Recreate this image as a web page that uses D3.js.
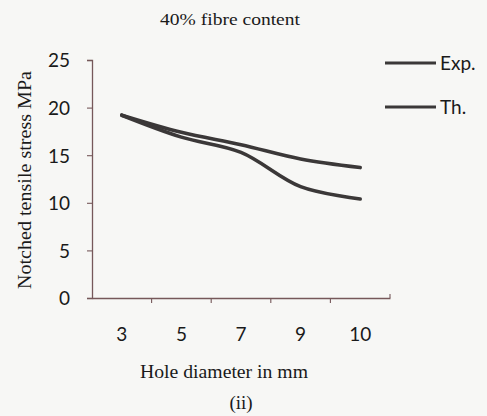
<!DOCTYPE html>
<html>
<head>
<meta charset="utf-8">
<script src="https://cdn.jsdelivr.net/npm/d3@7"></script>
<style>
  body { margin: 0; background: #f7f7f5; }
  svg { display: block; }
</style>
</head>
<body>
<svg id="chart" width="487" height="416"></svg>
<script>
// chart data
const holeDiameters = ['3', '5', '7', '9', '10'];
const expValues = [19.2, 17.4, 16.1, 14.6, 13.7];
const thValues = [19.2, 16.9, 15.3, 11.7, 10.4];
const yTicks = [0, 5, 10, 15, 20, 25];
const seriesNames = ['Exp.', 'Th.'];

const svg = d3.select('#chart');
const margin = { top: 60, right: 97, bottom: 118, left: 92 };
const width = +svg.attr('width') - margin.left - margin.right;
const height = +svg.attr('height') - margin.top - margin.bottom;

const axisColor = '#76585a';
const lineColor = '#3b3838';
const serif = '"Liberation Serif", "Times New Roman", serif';
const sans = 'Lato, "Open Sans", sans-serif';

const x = d3.scaleBand().domain(holeDiameters).range([0, width]);
const y = d3.scaleLinear().domain([0, 25]).range([height, 0]);

const g = svg.append('g')
  .attr('transform', `translate(${margin.left},${margin.top})`);

// y axis
const yAxis = g.append('g')
  .call(d3.axisLeft(y).tickValues(yTicks).tickSize(5).tickPadding(17));
yAxis.select('.domain').attr('stroke', axisColor).attr('stroke-width', 1.3);
yAxis.selectAll('.tick line').attr('stroke', axisColor).attr('stroke-width', 1.1);
yAxis.selectAll('text')
  .attr('fill', '#1a1a1a')
  .style('font-family', sans)
  .style('font-size', '19px')
  .attr('dy', '0.36em');

// x axis: labels centred in the bands, tick marks on the band edges
const xAxis = g.append('g')
  .attr('transform', `translate(0,${height})`)
  .call(d3.axisBottom(x).tickSize(0).tickPadding(30).tickSizeOuter(0));
xAxis.select('.domain').attr('stroke', axisColor).attr('stroke-width', 1.3);
xAxis.selectAll('text')
  .attr('fill', '#1a1a1a')
  .style('font-family', sans)
  .style('font-size', '19px');

xAxis.selectAll('.edge')
  .data(holeDiameters)
  .enter().append('line')
  .attr('class', 'edge')
  .attr('x1', d => x(d) + x.bandwidth())
  .attr('x2', d => x(d) + x.bandwidth())
  .attr('y1', 0)
  .attr('y2', (d, i) => (i === holeDiameters.length - 1 ? -4 : 5))
  .attr('stroke', axisColor)
  .attr('stroke-width', 1.1);

// the two curves
const line = d3.line()
  .x((d, i) => x(holeDiameters[i]) + x.bandwidth() / 2)
  .y(d => y(d))
  .curve(d3.curveCatmullRom.alpha(0.5));

[expValues, thValues].forEach((values) => {
  g.append('path')
    .datum(values)
    .attr('fill', 'none')
    .attr('stroke', lineColor)
    .attr('stroke-width', 3.6)
    .attr('stroke-linecap', 'round')
    .attr('d', line);
});

// legend
const legend = svg.append('g').attr('transform', 'translate(385,63)');
seriesNames.forEach((name, i) => {
  const row = legend.append('g').attr('transform', `translate(0,${i * 44})`);
  row.append('line')
    .attr('x1', 0).attr('x2', 51)
    .attr('stroke', lineColor)
    .attr('stroke-width', 3);
  row.append('text')
    .attr('x', 55)
    .attr('dy', '0.36em')
    .attr('fill', '#1a1a1a')
    .style('font-family', sans)
    .style('font-size', '19px')
    .text(name);
});

// titles
svg.append('text')
  .attr('x', 230).attr('y', 25)
  .attr('text-anchor', 'middle')
  .attr('textLength', 140).attr('lengthAdjust', 'spacingAndGlyphs')
  .style('font-family', serif)
  .style('font-size', '17px')
  .attr('fill', '#1a1a1a')
  .text('40% fibre content');

svg.append('text')
  .attr('transform', 'translate(31,180)rotate(-90)')
  .attr('text-anchor', 'middle')
  .attr('textLength', 218).attr('lengthAdjust', 'spacingAndGlyphs')
  .style('font-family', serif)
  .style('font-size', '18px')
  .attr('fill', '#1a1a1a')
  .text('Notched tensile stress  MPa');

svg.append('text')
  .attr('x', 224).attr('y', 378)
  .attr('text-anchor', 'middle')
  .attr('textLength', 168).attr('lengthAdjust', 'spacingAndGlyphs')
  .style('font-family', serif)
  .style('font-size', '19px')
  .attr('fill', '#1a1a1a')
  .text('Hole diameter in mm');

svg.append('text')
  .attr('x', 241).attr('y', 409)
  .attr('text-anchor', 'middle')
  .style('font-family', serif)
  .style('font-size', '19px')
  .attr('fill', '#1a1a1a')
  .text('(ii)');
</script>
</body>
</html>
